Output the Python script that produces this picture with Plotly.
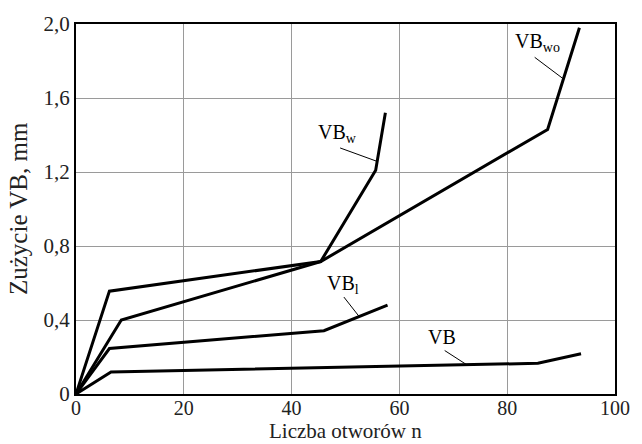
import plotly.graph_objects as go

# Tool wear VB versus number of drilled holes n
vb_x = [0, 6.5, 85.7, 93.7]
vb_y = [0, 0.119, 0.166, 0.218]

vbl_x = [0, 6.2, 46.0, 57.8]
vbl_y = [0, 0.246, 0.342, 0.48]

vbw_x = [0, 6.2, 45.4, 55.6, 57.4]
vbw_y = [0, 0.556, 0.716, 1.21, 1.52]

vbwo_x = [0, 8.4, 45.4, 87.5, 93.4]
vbwo_y = [0, 0.40, 0.716, 1.43, 1.98]

x_ticks = [0, 20, 40, 60, 80, 100]
y_ticks = [0, 0.4, 0.8, 1.2, 1.6, 2.0]
y_tick_text = ["0", "0,4", "0,8", "1,2", "1,6", "2,0"]

# label text, label position, leader line (start, end)
labels = [
    ("VB<sub>w</sub>", 48.6, 1.41, (49.0, 1.33), (55.9, 1.257)),
    ("VB<sub>wo</sub>", 85.6, 1.90, (85.1, 1.82), (90.3, 1.706)),
    ("VB<sub>l</sub>", 49.6, 0.59, (49.7, 0.524), (52.5, 0.42)),
    ("VB", 67.9, 0.31, (68.4, 0.235), (72.5, 0.158)),
]

FONT = "Liberation Serif"

fig = go.Figure()
for xs, ys in [(vb_x, vb_y), (vbl_x, vbl_y), (vbw_x, vbw_y), (vbwo_x, vbwo_y)]:
    fig.add_trace(go.Scatter(x=xs, y=ys, mode="lines",
                             line=dict(color="black", width=3),
                             showlegend=False, hoverinfo="skip"))

for text, tx, ty, p0, p1 in labels:
    fig.add_annotation(x=tx, y=ty, text=text, showarrow=False,
                       font=dict(family=FONT, size=20, color="black"))
    fig.add_shape(type="line", x0=p0[0], y0=p0[1], x1=p1[0], y1=p1[1],
                  line=dict(color="black", width=1))

# axis titles
fig.add_annotation(xref="paper", yref="paper", x=0.5, y=0, yshift=-50,
                   xanchor="center", yanchor="bottom", showarrow=False,
                   text="Liczba otworów n", borderpad=0,
                   font=dict(family=FONT, size=21, color="#222"))
fig.add_annotation(xref="paper", yref="paper", x=0, y=0.5, xshift=-58,
                   xanchor="center", yanchor="middle", showarrow=False,
                   textangle=-90, text="Zużycie VB, mm",
                   font=dict(family=FONT, size=25, color="#222"))

fig.update_layout(
    width=642, height=444,
    margin=dict(l=76, r=21, t=20, b=50),
    paper_bgcolor="white", plot_bgcolor="white",
    font=dict(family=FONT, size=21, color="#222"),
    showlegend=False,
)
fig.update_xaxes(
    range=[0, 100], tickvals=x_ticks, showgrid=True, gridcolor="#9a9a9a",
    gridwidth=1, zeroline=False, showline=True, linecolor="black",
    linewidth=2, mirror=True, ticks="", ticklabelstandoff=-5,
    tickfont=dict(family=FONT, size=20, color="#222"),
)
fig.update_yaxes(
    range=[0, 2.0], tickvals=y_ticks, ticktext=y_tick_text, showgrid=True,
    gridcolor="#9a9a9a", gridwidth=1, zeroline=False, showline=True,
    linecolor="black", linewidth=2, mirror=True, ticks="",
)

fig.write_html("out.html")
